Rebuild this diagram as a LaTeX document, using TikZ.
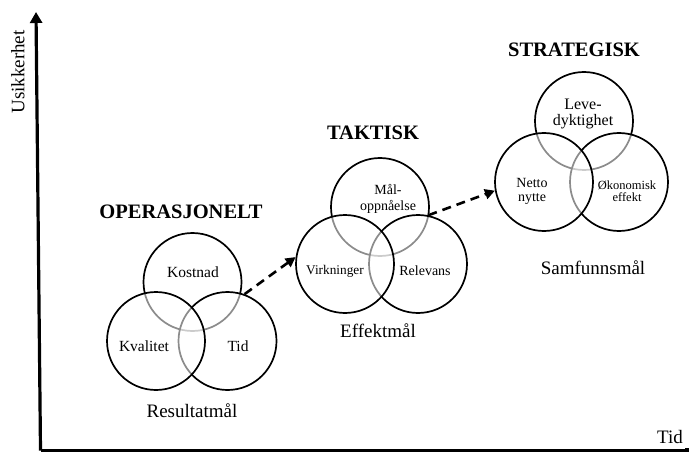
\documentclass[tikz,border=0pt]{standalone}
\usepackage{fontspec}
\setmainfont{Liberation Serif}
\usetikzlibrary{arrows.meta}
\begin{document}
\begin{tikzpicture}[x=1pt,y=-1pt,
  ring/.style={circle, draw=black, line width=1.7pt, minimum size=98pt,
    inner sep=0pt, fill=white, fill opacity=0.55},
  axis/.style={line width=3.2pt},
  link/.style={line width=2.6pt, dash pattern=on 9pt off 6pt,
    -{Triangle[length=10pt,width=10pt]}},
  title/.style={font=\fontsize{20.5}{22}\selectfont\bfseries},
  caption/.style={font=\fontsize{19}{21}\selectfont},
  lbl/.style={align=center, inner sep=0pt}]
\useasboundingbox (0,0) rectangle (690,457);

% axes
\coordinate (org) at (40.5,450.5);
\coordinate (ytop) at (36,12);
\coordinate (xend) at (687,450.5);
\draw[axis, -{Triangle[length=11pt,width=12pt]}] (org) -- (ytop);
\draw[axis] (org) -- (xend) -- ++(0,-3);
\node[caption, rotate=90] (yl) at (18,72) {Usikkerhet};
\node[caption] (xl) at (670,437) {Tid};

% operational level
\node[ring] (g1t) at (192.5,282) {};
\node[ring] (g1r) at (227.5,341) {};
\node[ring] (g1l) at (156,341) {};
\node[title] (h1) at (181,212) {OPERASJONELT};
\node[lbl, font=\fontsize{15.5}{17}\selectfont] (k1) at (193,272) {Kostnad};
\node[lbl, font=\fontsize{15.5}{17}\selectfont] (k2) at (144,346) {Kvalitet};
\node[lbl, font=\fontsize{15.5}{17}\selectfont] (k3) at (238,346) {Tid};
\node[caption] (c1) at (192,411) {Resultatmål};

% tactical level
\node[ring] (g2t) at (380,207) {};
\node[ring] (g2r) at (418,264) {};
\node[ring] (g2l) at (345,264) {};
\node[title] (h2) at (373,133) {TAKTISK};
\node[lbl, font=\fontsize{14}{16}\selectfont] (m1) at (388,199) {Mål-\\oppnåelse};
\node[lbl, font=\fontsize{13.3}{15}\selectfont] (m2) at (335,271) {Virkninger};
\node[lbl, font=\fontsize{14}{16}\selectfont] (m3) at (425,271) {Relevans};
\node[caption] (c2) at (378,331) {Effektmål};

% strategic level
\node[ring] (g3t) at (584,121) {};
\node[ring] (g3r) at (619,182) {};
\node[ring] (g3l) at (544,182) {};
\node[title] (h3) at (574,50) {STRATEGISK};
\node[lbl, font=\fontsize{16}{16}\selectfont] (s1) at (583,114) {Leve-\\dyktighet};
\node[lbl, font=\fontsize{14}{14}\selectfont] (s2) at (532,191) {Netto\\nytte};
\node[lbl, font=\fontsize{12.5}{12.5}\selectfont] (s3) at (627,191) {Økonomisk\\effekt};
\node[caption] (c3) at (593,268) {Samfunnsmål};

% transitions between levels
\draw[link] (g1r.70) -- (g2l.172);
\draw[link] (g2r.78) -- (g3l.190);
\end{tikzpicture}
\end{document}
